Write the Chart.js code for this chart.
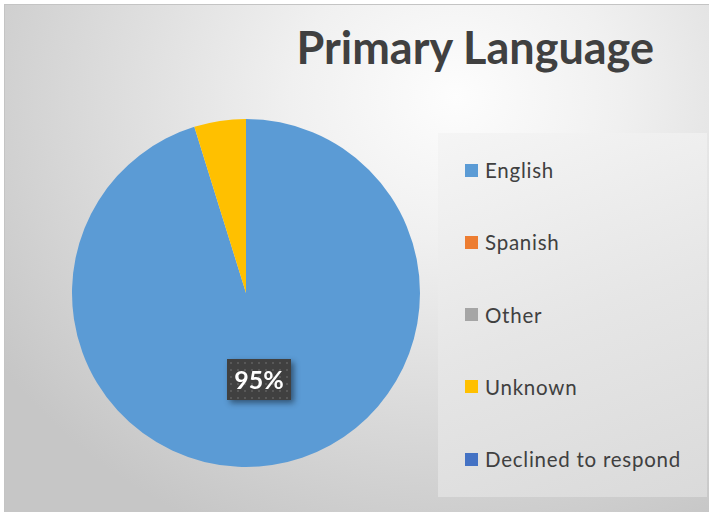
<!DOCTYPE html>
<html>
<head>
<meta charset="utf-8">
<script src="https://cdn.jsdelivr.net/npm/chart.js@4/dist/chart.umd.min.js"></script>
<style>
  html, body { margin: 0; padding: 0; background: #fff; }
  body { width: 709px; height: 512px; position: relative; overflow: hidden; font-family: Lato, "Noto Sans", sans-serif; }
  #frame {
    position: absolute; left: 4px; top: 4px; width: 705px; height: 508px;
    border-top: 1px solid #c4c4c4; border-left: 1px solid #c4c4c4; box-sizing: border-box;
    background: radial-gradient(ellipse 78% 95% at 64% 18%, #fdfdfd 0%, #f0f0f0 30%, #d8d8d8 70%, #c6c6c6 100%);
  }
  #title {
    position: absolute; left: 0; width: 654px; top: 19px;
    text-align: right; font-weight: bold; font-size: 45px; line-height: 56px; color: #404040;
  }
  #chartBox { position: absolute; left: 56px; top: 103px; width: 380px; height: 380px; }
  #legend {
    position: absolute; left: 438px; top: 133px; width: 269px; height: 364px;
    background: linear-gradient(160deg, #f5f5f5 0%, #e6e6e6 50%, #dadada 100%);
  }
  .item { position: absolute; left: 27px; height: 24px; display: flex; align-items: center;
    font-size: 20.5px; letter-spacing: 0.75px; color: #404040; white-space: nowrap; }
  .item span.sw { width: 13px; height: 13px; margin-right: 7px; display: inline-block; }
</style>
</head>
<body>
<div id="frame"></div>
<div id="title">Primary Language</div>
<div id="chartBox"><canvas id="pie"></canvas></div>
<div id="legend"></div>
<script>
const languages = ["English", "Spanish", "Other", "Unknown", "Declined to respond"];
const shares = [95.2, 0, 0, 4.8, 0];
const sliceColors = ["#5b9bd5", "#ed7d31", "#a5a5a5", "#ffc000", "#4472c4"];
const labelledSlices = [0];

// legend on the right
const legendBox = document.getElementById("legend");
languages.forEach((name, i) => {
  const row = document.createElement("div");
  row.className = "item";
  row.style.top = (25 + i * 72.3) + "px";
  row.innerHTML = '<span class="sw" style="background:' + sliceColors[i] + '"></span>' + name;
  legendBox.appendChild(row);
});

// dark percentage tag in the slice
const pctTag = {
  id: "pctTag",
  afterDatasetsDraw(chart) {
    const ctx = chart.ctx;
    const meta = chart.getDatasetMeta(0);
    const total = shares.reduce((a, b) => a + b, 0);
    labelledSlices.forEach(i => {
      const p = meta.data[i].tooltipPosition();
      const txt = Math.round(shares[i] / total * 100) + "%";
      const w = 64, h = 41;
      const x = Math.round(p.x - w / 2), y = Math.round(p.y - h / 2);
      ctx.save();
      ctx.shadowColor = "rgba(0,0,0,0.45)";
      ctx.shadowBlur = 6;
      ctx.shadowOffsetX = 3;
      ctx.shadowOffsetY = 3;
      ctx.fillStyle = "#404040";
      ctx.fillRect(x, y, w, h);
      ctx.restore();
      ctx.save();
      ctx.fillStyle = "rgba(255,255,255,0.13)";
      for (let dx = 3; dx < w - 1; dx += 7)
        for (let dy = 3; dy < h - 1; dy += 7) ctx.fillRect(x + dx, y + dy, 2, 2);
      ctx.fillStyle = "#ffffff";
      ctx.font = "bold 25px Lato";
      ctx.textAlign = "center";
      ctx.textBaseline = "middle";
      ctx.fillText(txt, x + w / 2, y + h / 2 + 1);
      ctx.restore();
    });
  }
};

new Chart(document.getElementById("pie"), {
  type: "pie",
  data: {
    labels: languages,
    datasets: [{
      data: shares,
      backgroundColor: sliceColors,
      borderWidth: 0
    }]
  },
  options: {
    responsive: true,
    maintainAspectRatio: false,
    animation: false,
    layout: { padding: 16 },
    plugins: {
      legend: { display: false },
      title: { display: false },
      tooltip: { enabled: false }
    }
  },
  plugins: [pctTag]
});
</script>
</body>
</html>
